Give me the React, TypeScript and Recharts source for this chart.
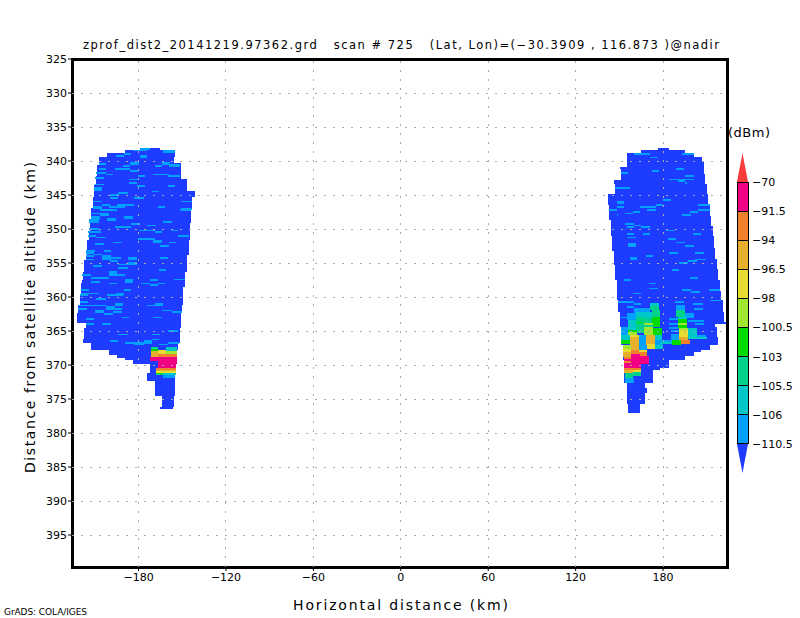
import { ComposedChart, ReferenceArea, ReferenceLine, XAxis, YAxis } from "recharts";

// [altitude top, altitude bottom, distance left, distance right]
type Span = [number, number, number, number];
// same, plus the dBm bin the cell falls in
type Echo = [number, number, number, number, number];

const xTicks = [-180, -120, -60, 0, 60, 120, 180];
const yTicks = [325, 330, 335, 340, 345, 350, 355, 360, 365, 370, 375, 380, 385, 390, 395];
const xRange: [number, number] = [-225.7, 223.9];
const yRange: [number, number] = [325, 399.7];

const dbmLevels = [-110.5, -106, -105.5, -103, -100.5, -98, -96.5, -94, -91.5, -70];
const levelColors = ["#00a0ff", "#00c8c8", "#00d28c", "#00dc00", "#a0e632", "#e6dc32", "#e6af2d", "#f0822d", "#f00082", "#fa3c3c"];
const belowColor = "#1e3cff";

const leftSwath: Span[] = [
  [338.09, 338.38, -178.6, -165], [338.38, 338.82, -189.6, -154.7], [338.82, 339.41, -202, -154.7],
  [339.41, 340.29, -207.4, -156], [340.29, 340.59, -207.4, -151.2], [340.59, 342.21, -208.8, -151.2],
  [342.21, 342.65, -209.5, -151.2], [342.65, 343.53, -209.5, -147.1], [343.53, 344.41, -210.9, -147.1],
  [344.41, 345.29, -210.9, -141.6], [345.29, 346.91, -211.6, -143], [346.91, 349.12, -213, -143.7],
  [349.12, 350.29, -213.6, -144.4], [350.29, 351.62, -214.3, -145], [351.62, 353.82, -215.7, -145.7],
  [353.82, 354.56, -216.4, -147.1], [354.56, 356.32, -217.8, -147.1], [356.32, 357.5, -218.4, -147.8],
  [357.5, 357.94, -219.1, -147.8], [357.94, 358.53, -219.8, -147.8], [358.53, 359.71, -219.8, -149.2],
  [359.71, 361.18, -220.5, -149.2], [361.18, 362.35, -221.9, -149.9], [362.35, 363.82, -222.6, -151.2],
  [363.82, 364.56, -216.4, -151.2], [364.56, 366.18, -217.8, -151.9], [366.18, 366.76, -218.4, -151.9],
  [366.76, 367.79, -213, -152.6], [367.79, 368.53, -200.6, -153.3], [368.53, 368.97, -194.5, -153.3],
  [368.97, 369.26, -189.6, -153.3], [369.26, 369.85, -183.5, -153.3], [369.85, 371.18, -172.5, -154],
  [371.18, 372.35, -173.9, -154.7], [372.35, 374.56, -168.4, -154.7], [374.56, 376.18, -163.6, -156],
  [376.18, 376.47, -165, -156.7],
];

const rightSwath: Span[] = [
  [338.09, 338.38, 176.6, 184.2], [338.38, 338.82, 165, 195.1], [338.82, 339.41, 155.3, 201.3],
  [339.41, 340.14, 155.3, 206.8], [340.14, 340.88, 155.3, 208.2], [340.88, 341.17, 150.5, 208.2],
  [341.17, 341.91, 151.2, 208.2], [341.91, 342.79, 151.2, 208.8], [342.79, 343.38, 146.4, 208.8],
  [343.38, 344.85, 147.1, 210.2], [344.85, 346.47, 142.3, 210.9], [346.47, 348.08, 143, 212.3],
  [348.08, 348.67, 143, 213], [348.67, 349.55, 144.4, 213], [349.55, 351.02, 144.4, 214.3],
  [351.02, 352.79, 145.1, 215], [352.79, 353.23, 145.1, 215.7], [353.23, 354.4, 146.4, 215.7],
  [354.4, 355.29, 146.4, 217.1], [355.29, 355.87, 147.1, 217.1], [355.87, 357.5, 147.1, 217.8],
  [357.5, 359.07, 148.5, 219.1], [359.07, 360.44, 148.5, 219.8], [360.44, 362.16, 149.2, 221.2],
  [362.16, 363.63, 150.5, 221.9], [363.63, 363.97, 150.5, 223.2], [363.97, 364.36, 150.5, 215.7],
  [364.36, 365.83, 151.2, 217.1], [365.83, 367.06, 151.2, 217.8], [367.06, 367.79, 152.6, 212.3],
  [367.79, 368.08, 152.6, 206.1], [368.08, 368.67, 152.6, 201.3], [368.67, 369.26, 152.6, 195.1],
  [369.26, 370.44, 153.3, 184.2], [370.44, 370.73, 153.3, 178], [370.73, 372.7, 153.3, 173.2],
  [372.7, 373.43, 155.3, 167.7], [373.43, 374.16, 155.3, 169], [374.16, 375.73, 155.3, 167.7],
  [375.73, 377.1, 156, 164.3],
];

// thin returns just above the noise floor, lowest bin
const leftStreaks: Span[] = [
  [338.09, 338.38, -178.7, -172.5], [338.38, 338.82, -162.9, -154.7], [338.38, 338.53, -183.5, -173.9],
  [339.1, 339.4, -195.8, -189.7], [338.8, 339.1, -189.7, -184.9], [339.1, 339.56, -178.7, -173.9],
  [340.3, 340.6, -207.5, -202.7], [340.14, 340.6, -185.6, -179.4], [340.6, 340.9, -190.4, -185.6],
  [340.14, 340.6, -163.6, -158.1], [340.6, 340.9, -168.4, -163.6], [340.44, 340.9, -158.8, -151.3],
  [341.03, 341.32, -196.5, -185.6], [341.32, 341.6, -185.6, -180.7], [341, 341.3, -207.5, -202.7],
  [341.6, 341.9, -208.9, -202.7], [341.9, 342.05, -202.7, -197.9], [342.05, 342.35, -180.7, -175.9],
  [341.9, 342.05, -169.8, -158.8], [342.05, 342.35, -159.5, -151.9], [342.35, 342.64, -209.6, -203.4],
  [342.64, 342.8, -186.9, -180.7], [343.08, 343.38, -186.9, -181.4], [343.38, 343.53, -209.6, -203.4],
  [343.53, 343.82, -181.4, -175.9], [343.53, 343.82, -159.5, -154.7], [343.82, 344.41, -210.9, -204.8],
  [344.41, 344.55, -170.5, -165.7], [344.55, 344.85, -193.8, -187.6], [344.85, 345.14, -199.9, -193.1],
  [345.29, 345.58, -199.9, -193.8], [345.29, 345.58, -182.8, -176.6], [345.88, 346.02, -211.6, -205.4],
  [345.88, 346.02, -150.6, -143], [346.32, 346.61, -205.4, -199.9], [346.32, 346.61, -194.5, -182.8],
  [346.61, 347.05, -211.6, -205.4], [346.61, 346.9, -200.6, -189], [346.61, 346.9, -166.4, -161.6],
  [346.9, 347.2, -150.6, -143], [347.05, 347.35, -151.9, -143.7], [347.05, 347.35, -206.8, -194.5],
  [347.64, 347.8, -213, -206.8], [347.64, 348.08, -206.8, -200.6], [348.08, 348.5, -213, -206.8],
  [348.08, 348.5, -189.7, -183.5], [348.38, 348.8, -202, -195.8], [348.5, 349.1, -213.7, -207.5],
  [348.8, 349.1, -162.9, -157.4], [349.1, 349.4, -184.9, -178.7], [349.4, 349.55, -173.9, -167.7],
  [349.55, 349.85, -196.5, -184.9], [349.85, 350.14, -213.7, -207.5], [350.14, 350.29, -179.4, -168.4],
  [350.14, 350.29, -157.4, -152.6], [350.29, 350.58, -168.4, -163.6], [350.29, 350.58, -214.4, -206.1],
  [350.88, 351.17, -214.4, -208.9], [350.88, 351.17, -152.6, -145.1], [351.17, 351.32, -208.9, -202.7],
  [351.32, 351.61, -180.7, -168.4], [351.61, 352.05, -169.8, -163.6], [351.9, 352.05, -197.9, -191.7],
  [351.9, 352.05, -158.8, -154], [352.05, 352.35, -209.6, -203.4], [352.35, 352.64, -165, -158.8],
  [353.08, 353.37, -216.4, -209.6], [353.08, 353.37, -203.4, -198.6], [353.37, 353.67, -216.4, -210.9],
  [353.8, 354.55, -204.8, -198.6], [353.67, 353.82, -210.9, -204.8], [353.82, 354.1, -216.4, -210.9],
  [354.1, 354.4, -198.6, -192.4], [354.1, 354.55, -187.6, -181.4], [354.1, 354.4, -165, -159.5],
  [354.4, 354.55, -216.4, -210.9], [354.55, 354.85, -199.9, -193.8], [355.3, 355.6, -211.6, -205.4],
  [354.85, 355.3, -187.6, -181.4], [355.14, 355.3, -193.8, -182.8], [355.6, 355.9, -193.8, -187.6],
  [355.9, 356.2, -165.7, -160.9], [356.2, 356.9, -200.6, -194.5], [356.61, 356.9, -194.5, -189],
  [356.61, 356.9, -218.5, -213], [357.05, 357.35, -213, -200.6], [357.35, 357.94, -189, -183.5],
  [357.35, 357.65, -172, -166.4], [357.35, 357.5, -155.4, -147.8], [357.65, 357.94, -213, -206.8],
  [357.94, 358.09, -200.6, -194.5], [357.94, 358.09, -178, -172.5], [358.09, 358.38, -172.5, -166.4],
  [357.94, 358.09, -166.4, -161.6], [358.82, 359.1, -219.8, -213.7], [358.82, 359.1, -189.7, -184.9],
  [359.4, 359.56, -219.8, -207.5], [359.4, 359.7, -195.8, -189.7], [359.56, 359.85, -202, -190.4],
  [359.56, 359.85, -220.5, -214.4], [360.15, 360.44, -208.9, -202.7], [360.6, 360.9, -220.5, -214.4],
  [360.9, 361.3, -168.4, -162.9], [360.9, 361.3, -196.5, -190.4], [361.18, 361.32, -173.9, -168.4],
  [361.18, 361.32, -221.9, -202.7], [361.3, 361.9, -202.7, -196.5], [361.6, 361.9, -221.9, -215.7],
  [361.6, 361.9, -196.5, -191.7], [361.9, 362.35, -209.6, -203.4], [362.05, 362.35, -197.9, -191.7],
  [361.9, 362.05, -163.6, -157.4], [362.05, 362.35, -157.4, -149.9], [362.35, 362.65, -203.4, -197.9],
  [362.94, 363.09, -191.7, -186.9], [362.94, 363.09, -169.8, -163.6], [363.09, 363.38, -216.4, -210.9],
  [363.82, 364.12, -216.4, -210.9], [363.82, 364.12, -204.8, -198.6], [364.85, 365.14, -159.5, -152.6],
  [365.44, 365.59, -170.5, -165], [365.44, 365.59, -193.8, -187.6], [366.17, 366.32, -170.5, -165.7],
  [366.32, 366.6, -199.9, -193.8], [366.32, 366.6, -176.6, -170.5], [366.6, 366.9, -189, -176.6],
  [366.9, 367.05, -182.8, -176.6], [366.6, 366.9, -176.6, -171], [366.6, 366.9, -159.5, -152],
  [366.9, 367.05, -165.7, -159.5],
];

const rightStreaks: Span[] = [
  [338.82, 339.1, 160.1, 171.1], [338.82, 339.1, 193, 201.3], [339.41, 339.55, 171.1, 176.6],
  [341.6, 341.9, 151.2, 156], [341.32, 341.6, 172.5, 177.3], [341, 341.32, 189, 194.4],
  [342.05, 342.35, 195.1, 201.3], [342.64, 342.8, 184.2, 201.3], [342.8, 343.08, 190.3, 195.1],
  [343.08, 343.38, 195.1, 196.5], [343.82, 344.1, 147.1, 157.4], [345.58, 345.88, 180, 185.5],
  [345.88, 346.32, 148.5, 153.3], [346.32, 346.6, 175.2, 180], [346.32, 346.6, 204, 212.3],
  [346.6, 346.9, 148.5, 153.3], [346.6, 346.9, 164.3, 175.2], [347.05, 347.35, 143, 148.5],
  [347.05, 347.35, 169, 175.2], [347.05, 347.35, 204, 212.3], [347.35, 347.64, 159.5, 164.3],
  [347.35, 347.64, 198.6, 204], [347.64, 347.8, 154, 159.5], [347.8, 348.08, 148.5, 149.2],
  [347.8, 348.08, 193, 199.2], [349.1, 349.4, 154, 160.1], [349.4, 349.55, 160.1, 165],
  [349.55, 349.85, 155.3, 160.1], [349.55, 349.85, 165, 171.1], [350.14, 350.29, 182.1, 188.3],
  [350.58, 350.88, 155.3, 160.1], [350.58, 350.88, 166.3, 171.1], [350.58, 350.88, 200.6, 206.1],
  [351.17, 351.32, 155.3, 161.5], [351.32, 351.6, 183.5, 189], [351.9, 352.05, 189, 195.1],
  [352.05, 352.64, 156, 161.5], [352.35, 352.64, 195.1, 201.3], [353.37, 353.67, 184.2, 190.3],
  [353.37, 353.67, 202, 208.2], [353.8, 354.1, 168.4, 173.2], [354.1, 354.55, 157.4, 162.2],
  [354.4, 354.55, 202, 209.5], [354.55, 354.85, 197.2, 203.4], [354.85, 355.14, 191, 197.2],
  [355.9, 356.2, 186.2, 191], [357.05, 357.35, 198.6, 204], [357.35, 357.65, 153.3, 158.1],
  [357.94, 358.09, 170.4, 175.2], [358.68, 358.82, 170.4, 176.6], [358.82, 359.1, 193, 199.2],
  [359.12, 359.4, 199.2, 205.4], [358.82, 359.1, 211.6, 219.1], [359.4, 359.56, 159.5, 165],
  [360.44, 360.6, 212.3, 219.8], [360.6, 360.9, 149.2, 160.1], [360.6, 360.9, 188.3, 194.4],
  [360.9, 361.2, 200.6, 207.5], [360.9, 361.2, 160.1, 165], [361.3, 361.6, 155.3, 160.1],
  [361.6, 361.9, 201.3, 207.5], [362.94, 363.09, 150.5, 156], [363.09, 363.38, 184.2, 190.3],
  [363.38, 363.68, 197.2, 208.2], [363.82, 364.12, 184.2, 190.3], [363.82, 364.12, 202, 208.2],
  [364.4, 364.7, 184.2, 190.3], [364.85, 365.14, 185.5, 191.7], [365.6, 365.9, 197.2, 203.4],
  [365.6, 365.9, 203.4, 209.5], [365.44, 366.32, 185.5, 191],
];

// stronger returns near the surface, painted in this order
const leftEchoes: Echo[] = [
  [367.3, 367.64, -171.8, -166.4, -105.5], [367.3, 367.94, -160.9, -153.3, -106], [367.64, 367.94, -171.8, -166.4, -103],
  [367.79, 368.38, -166.4, -160.9, -98], [367.94, 368.38, -171.8, -166.4, -96.5], [367.94, 368.38, -160.9, -153.3, -100.5],
  [368.38, 368.77, -171.8, -166.4, -96.5], [368.38, 368.77, -166.4, -153.3, -94], [368.77, 369.4, -172.5, -166.4, -91.5],
  [368.77, 369.85, -166.4, -153.3, -91.5], [369.85, 370.5, -166.4, -154, -91.5], [370.5, 370.73, -167.7, -154, -94],
  [370.73, 370.93, -167.7, -154, -96.5], [370.93, 371.12, -167.7, -154, -98], [371.12, 371.3, -167.7, -162.9, -103],
  [371.3, 371.47, -167.7, -162.9, -105.5], [371.12, 371.47, -162.9, -154, -106], [371.47, 371.86, -162.9, -154.7, -110.5],
];

const rightEchoes: Echo[] = [
  [360.88, 361.32, 171.1, 177.3, -106], [361.32, 361.91, 171.1, 177.3, -105.5], [361.62, 362.35, 160.1, 171.1, -110.5],
  [362.35, 363.38, 155.3, 161.5, -110.5], [362.2, 363.09, 161.5, 172.5, -106], [361.91, 362.94, 172.5, 178, -105.5],
  [362.94, 364.41, 172.5, 178, -103], [362.94, 363.82, 161.5, 167, -105.5], [363.67, 363.82, 161.5, 167, -103],
  [363.09, 363.82, 167, 172.5, -105.5], [363.38, 364.85, 156, 161.5, -106], [363.82, 365.29, 161.5, 167, -105.5],
  [363.82, 364.12, 167, 173.2, -100.5], [364.12, 364.41, 167, 173.2, -105.5], [364.41, 365.59, 167, 173.2, -100.5],
  [364.56, 365.59, 173.2, 179.4, -103], [364.41, 365.59, 151.2, 156, -110.5], [364.85, 365.14, 156, 162.2, -103],
  [365.14, 365.59, 156, 162.2, -100.5], [365.59, 367.06, 162.2, 168.4, -110.5], [365.59, 367.06, 168.4, 174.5, -96.5],
  [365.59, 366.32, 174.5, 179.4, -106], [366.32, 367.06, 174.5, 180, -110.5], [365.59, 366.32, 151.2, 157.4, -106],
  [366.32, 366.91, 151.2, 157.4, -103], [365.59, 365.93, 157.4, 163.6, -98], [365.93, 367.79, 157.4, 163.6, -96.5],
  [367.06, 367.79, 163.6, 169, -110.5], [366.91, 367.64, 169, 174.5, -98], [367.06, 367.64, 174.5, 180, -106],
  [367.06, 367.64, 152.6, 158.1, -100.5], [367.64, 368.08, 152.6, 158.1, -98], [368.08, 368.82, 152.6, 158.1, -96.5],
  [368.82, 369.11, 153.3, 158.1, -94], [367.79, 368.38, 158.1, 163.6, -94], [367.79, 368.08, 163.6, 169, -98],
  [368.08, 368.67, 163.6, 169, -94], [368.38, 369.11, 158.1, 164.3, -91.5], [368.67, 369.85, 164.3, 170.4, -91.5],
  [369.11, 369.41, 153.3, 158.1, -91.5], [369.41, 369.7, 153.3, 158.1, -94], [369.11, 369.85, 158.1, 170.4, -91.5],
  [369.7, 370.44, 153.3, 165, -91.5], [370.44, 370.73, 153.3, 165, -94], [370.73, 371.17, 153.3, 159.5, -96.5],
  [370.73, 371.02, 159.5, 165, -98], [371.02, 371.61, 159.5, 165, -105.5], [371.17, 372.2, 154, 159.5, -105.5],
  [371.91, 372.64, 154, 160.1, -110.5],
  [361.18, 361.91, 189, 195.1, -110.5], [361.91, 362.94, 189, 195.1, -105.5], [362.35, 363.09, 195.1, 201.3, -110.5],
  [362.94, 363.23, 190.3, 196.5, -106], [363.23, 363.82, 190.3, 196.5, -103], [363.82, 364.12, 190.3, 196.5, -100.5],
  [364.12, 364.56, 190.3, 196.5, -103], [364.56, 364.85, 191, 197.2, -100.5], [364.85, 365.88, 191, 197.2, -98],
  [365.88, 366.32, 191, 197.2, -96.5], [366.32, 366.91, 191, 198.6, -94], [364.56, 366.17, 197.2, 203.4, -106],
  [365.88, 366.17, 197.2, 210.2, -106], [366.32, 366.91, 174.5, 186.2, -110.5], [366.61, 366.91, 178, 186.2, -106],
  [366.32, 367.06, 186.2, 192.4, -103],
];

const title = "zprof_dist2_20141219.97362.grd   scan # 725   (Lat, Lon)=(\u221230.3909 , 116.873 )@nadir";
const xTitle = "Horizontal distance (km)";
const yTitle = "Distance from satellite altitude (km)";
const footer = "GrADS: COLA/IGES";
const unit = "(dBm)";

const swaths = [...leftSwath, ...rightSwath];
const streaks = [...leftStreaks, ...rightStreaks];
const echoes = [...leftEchoes, ...rightEchoes];
const barTicks = dbmLevels.map((_, i) => i + 1);

const colorOf = (level: number) => levelColors[dbmLevels.indexOf(level)];
const minus = (v: number) => String(v).replace("-", "\u2212");
const font = "'DejaVu Sans', sans-serif";
const tickStyle = { fill: "#000", fontSize: 11, fontFamily: font };
const gridDash = "2 7";
const gridColor = "#aaaaaa";

function Cell({ s, color }: { s: number[]; color: string }) {
  return <ReferenceArea y1={s[0]} y2={s[1]} x1={s[2]} x2={s[3]} fill={color} fillOpacity={1} stroke="none" />;
}

// the two end caps of the colour bar
function Cap({ x, y, width, height, up, color }: any) {
  const pts = up
    ? `${x},${y + height} ${x + width},${y + height} ${x + width / 2},${y}`
    : `${x},${y} ${x + width},${y} ${x + width / 2},${y + height}`;
  return <polygon points={pts} fill={color} />;
}

function ColorBar() {
  return (
    <div style={{ position: "absolute", left: 660, top: 153 }}>
      <ComposedChart width={140} height={320} margin={{ top: 0, right: 0, bottom: 0, left: 77 }}>
        <XAxis type="number" dataKey="x" domain={[0, 1]} height={0} allowDataOverflow axisLine={false} tickLine={false} tick={false} />
        <YAxis
          type="number"
          orientation="right"
          width={52}
          domain={[0, 11]}
          ticks={barTicks}
          interval={0}
          allowDataOverflow
          axisLine={false}
          tickLine={false}
          tickSize={0}
          tickMargin={4}
          tick={tickStyle}
          tickFormatter={(v: number) => minus(dbmLevels[v - 1])}
        />
        <ReferenceArea x1={0} x2={1} y1={0} y2={1} shape={(p: any) => <Cap {...p} color={belowColor} />} />
        <ReferenceArea x1={0} x2={1} y1={10} y2={11} shape={(p: any) => <Cap {...p} up color={levelColors[9]} />} />
        {levelColors.slice(0, 9).map((c, i) => (
          <ReferenceArea key={c} x1={0} x2={1} y1={i + 1} y2={i + 2} fill={c} fillOpacity={1} stroke="#000" strokeWidth={1} />
        ))}
      </ComposedChart>
    </div>
  );
}

export default function App() {
  return (
    <div style={{ position: "absolute", left: 0, top: 0, width: 800, height: 618, background: "#fff" }}>
      <style>{`.recharts-reference-area-rect, .recharts-reference-line-line { shape-rendering: crispEdges; }`}</style>
      <ComposedChart width={800} height={618} margin={{ top: 59, right: 73, bottom: 21, left: 32 }}>
        <XAxis
          type="number"
          dataKey="x"
          domain={xRange}
          ticks={xTicks}
          interval={0}
          height={30}
          allowDataOverflow
          axisLine={false}
          tickSize={4}
          tickLine={{ stroke: "#000" }}
          tickMargin={2}
          tick={tickStyle}
          tickFormatter={minus}
        />
        <YAxis
          type="number"
          domain={yRange}
          ticks={yTicks}
          interval={0}
          reversed
          width={40}
          allowDataOverflow
          axisLine={false}
          tickSize={4}
          tickLine={{ stroke: "#000" }}
          tickMargin={1}
          tick={tickStyle}
        />
        {swaths.map((s, i) => (
          <Cell key={`sw${i}`} s={s} color={belowColor} />
        ))}
        {streaks.map((s, i) => (
          <Cell key={`st${i}`} s={s} color={colorOf(-110.5)} />
        ))}
        {echoes.map((s, i) => (
          <Cell key={`ec${i}`} s={s} color={colorOf(s[4])} />
        ))}
        {yTicks.slice(1).map((y) => (
          <ReferenceLine key={`gy${y}`} y={y} stroke={gridColor} strokeDasharray={gridDash} />
        ))}
        {xTicks.map((x) => (
          <ReferenceLine key={`gx${x}`} x={x} stroke={gridColor} strokeDasharray={gridDash} />
        ))}
        <ReferenceArea x1={xRange[0]} x2={xRange[1]} y1={yRange[0]} y2={yRange[1]} fill="none" stroke="#000" strokeWidth={3} />
      </ComposedChart>
      <ColorBar />
      <svg width={800} height={618} style={{ position: "absolute", left: 0, top: 0, pointerEvents: "none" }} fontFamily={font} fill="#000">
        <text x={83} y={49} fontSize={11.5} textLength={636} xmlSpace="preserve">{title}</text>
        <text x={293} y={610} fontSize={14} textLength={215}>{xTitle}</text>
        <text transform="translate(35,473) rotate(-90)" fontSize={14} textLength={311}>{yTitle}</text>
        <text x={4} y={615} fontSize={9} textLength={83}>{footer}</text>
        <text x={728} y={137} fontSize={13} textLength={42}>{unit}</text>
      </svg>
    </div>
  );
}
